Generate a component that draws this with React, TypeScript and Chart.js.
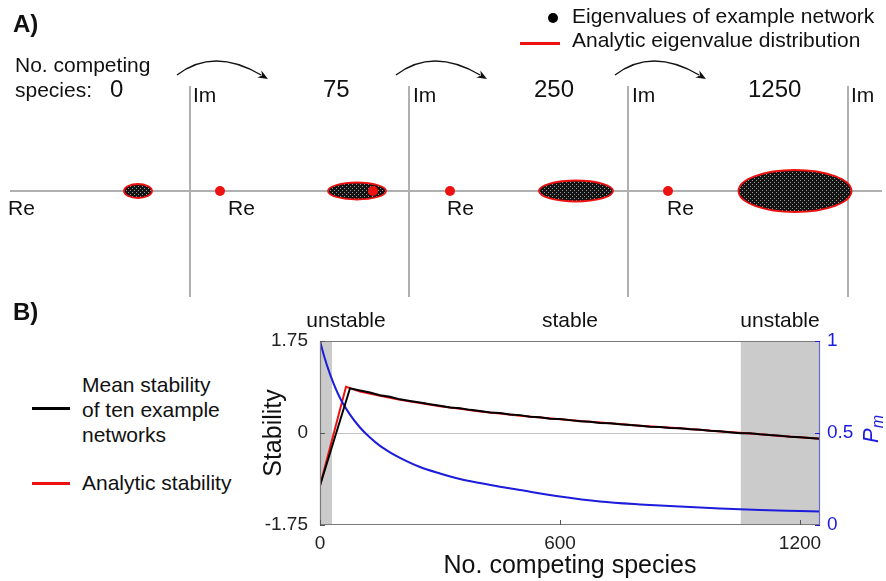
import React, { useEffect, useRef } from 'react';
import { Chart, registerables } from 'chart.js';

Chart.register(...registerables);

const FONT = '"Liberation Sans", Arial, Helvetica, sans-serif';
Chart.defaults.font.family = FONT;

// ---------- Panel A data ----------
const competingCounts = ['0', '75', '250', '1250'];
const panelOrigins = [0, 219, 438, 658]; // Re-position of each Im axis
const ellipseCenters = [-52, -52, -52, -53];
const ellipseHalfWidths = [14, 29, 37, 56.5];
const ellipseHalfHeights = [7, 8.5, 10.5, 21];
const redDotPanels = [0, 1, 1, 2];
const redDotRe = [30, 41, -36, 40];
const reAxisRange = [-180, 692];
const imAxisRange = [-106, 105];
const arrowPanels = [0, 1, 2];
const arrowStart = [-13, 116];
const arrowPeak = [28, 129];
const arrowEnd = [78, 112];

// ---------- Panel B data ----------
const blackN = [0, 75, 100, 125, 150, 175, 200, 225, 250, 275, 300, 325, 350, 375, 400, 425, 450, 475, 500, 525, 550, 575, 600, 625, 650, 675, 700, 725, 750, 775, 800, 825, 850, 875, 900, 925, 950, 975, 1000, 1025, 1050, 1075, 1100, 1125, 1150, 1175, 1200, 1225, 1250];
const blackStability = [-1.0, 0.85, 0.81, 0.77, 0.72, 0.69, 0.64, 0.61, 0.58, 0.545, 0.52, 0.485, 0.47, 0.44, 0.42, 0.39, 0.38, 0.35, 0.34, 0.31, 0.3, 0.27, 0.265, 0.245, 0.225, 0.215, 0.19, 0.185, 0.165, 0.15, 0.14, 0.12, 0.115, 0.095, 0.09, 0.07, 0.06, 0.045, 0.035, 0.015, -0.005, -0.005, -0.025, -0.04, -0.05, -0.07, -0.08, -0.095, -0.11];
const redN = [0, 65, 100, 150, 200, 250, 300, 350, 400, 450, 500, 550, 600, 650, 700, 750, 800, 850, 900, 950, 1000, 1050, 1100, 1150, 1200, 1250];
const redStability = [-1.0, 0.88, 0.79, 0.71, 0.63, 0.57, 0.51, 0.46, 0.41, 0.37, 0.33, 0.295, 0.26, 0.23, 0.2, 0.17, 0.14, 0.115, 0.09, 0.06, 0.03, 0.005, -0.025, -0.055, -0.08, -0.11];
const pmN = [0, 10, 25, 50, 75, 100, 125, 150, 175, 200, 250, 300, 350, 400, 450, 500, 600, 700, 800, 900, 1000, 1100, 1200, 1250];
const pmValues = [1.0, 0.92, 0.82, 0.69, 0.6, 0.53, 0.475, 0.43, 0.395, 0.365, 0.315, 0.28, 0.25, 0.228, 0.208, 0.19, 0.155, 0.128, 0.112, 0.1, 0.09, 0.082, 0.076, 0.073];
const speciesTicks = [0, 600, 1200];
const stabilityTicks = [-1.75, 0, 1.75];
const pmTicks = [0, 0.5, 1];
const unstableRegions = [[0, 30], [1052, 1250]];
const regionLabels = ['unstable', 'stable', 'unstable'];

const BLUE = '#1c1cdc';
const RED = '#ee1111';

function makeSpeckle(ctx: CanvasRenderingContext2D) {
  const c = document.createElement('canvas');
  c.width = 4;
  c.height = 4;
  const p = c.getContext('2d')!;
  p.fillStyle = '#141414';
  p.fillRect(0, 0, 4, 4);
  p.fillStyle = '#9a9a9a';
  p.fillRect(0, 0, 1, 1);
  p.fillRect(2, 2, 1, 1);
  return ctx.createPattern(c, 'repeat');
}

const eigenPlugin = {
  id: 'eigen',
  beforeDatasetsDraw(chart: any) {
    const { ctx, scales } = chart;
    const x = scales.x;
    const y = scales.y;
    ctx.save();
    ctx.strokeStyle = '#b0b0b0';
    ctx.lineWidth = 2;
    ctx.beginPath();
    ctx.moveTo(x.getPixelForValue(reAxisRange[0]), y.getPixelForValue(0));
    ctx.lineTo(x.getPixelForValue(reAxisRange[1]), y.getPixelForValue(0));
    ctx.stroke();
    panelOrigins.forEach((o) => {
      ctx.beginPath();
      ctx.moveTo(x.getPixelForValue(o), y.getPixelForValue(imAxisRange[1]));
      ctx.lineTo(x.getPixelForValue(o), y.getPixelForValue(imAxisRange[0]));
      ctx.stroke();
    });
    const pat = makeSpeckle(ctx);
    panelOrigins.forEach((o, i) => {
      const cx = x.getPixelForValue(o + ellipseCenters[i]);
      const cy = y.getPixelForValue(0);
      const rx = Math.abs(x.getPixelForValue(o + ellipseCenters[i] + ellipseHalfWidths[i]) - cx);
      const ry = Math.abs(y.getPixelForValue(ellipseHalfHeights[i]) - cy);
      ctx.beginPath();
      ctx.ellipse(cx, cy, rx, ry, 0, 0, Math.PI * 2);
      ctx.fillStyle = pat || '#222';
      ctx.fill();
      ctx.strokeStyle = RED;
      ctx.lineWidth = 1.8;
      ctx.stroke();
    });
    // arrows between diagrams
    ctx.strokeStyle = '#111';
    ctx.fillStyle = '#111';
    ctx.lineWidth = 1.3;
    arrowPanels.forEach((pi) => {
      const o = panelOrigins[pi];
      const sx = x.getPixelForValue(o + arrowStart[0]);
      const sy = y.getPixelForValue(arrowStart[1]);
      const px = x.getPixelForValue(o + arrowPeak[0]);
      const py = y.getPixelForValue(arrowPeak[1]);
      const ex = x.getPixelForValue(o + arrowEnd[0]);
      const ey = y.getPixelForValue(arrowEnd[1]);
      const cx = 2 * px - (sx + ex) / 2;
      const cy = 2 * py - (sy + ey) / 2;
      const ang = Math.atan2(ey - cy, ex - cx);
      const hl = 10;
      const bx = ex - hl * Math.cos(ang) * 0.8;
      const by = ey - hl * Math.sin(ang) * 0.8;
      ctx.beginPath();
      ctx.moveTo(sx, sy);
      ctx.quadraticCurveTo(cx, cy, bx, by);
      ctx.stroke();
      ctx.beginPath();
      ctx.moveTo(ex, ey);
      ctx.lineTo(ex - hl * Math.cos(ang) + 4 * Math.sin(ang), ey - hl * Math.sin(ang) - 4 * Math.cos(ang));
      ctx.lineTo(ex - hl * Math.cos(ang) * 0.7, ey - hl * Math.sin(ang) * 0.7);
      ctx.lineTo(ex - hl * Math.cos(ang) - 4 * Math.sin(ang), ey - hl * Math.sin(ang) + 4 * Math.cos(ang));
      ctx.closePath();
      ctx.fill();
    });
    ctx.restore();
  },
};

const boxPlugin = {
  id: 'box',
  beforeDatasetsDraw(chart: any) {
    const { ctx, chartArea, scales } = chart;
    const { top, bottom, left, right } = chartArea;
    const x = scales.x;
    const y = scales.y;
    ctx.save();
    ctx.fillStyle = '#cbcbcb';
    unstableRegions.forEach(([a, b]) => {
      const xa = x.getPixelForValue(a);
      const xb = x.getPixelForValue(b);
      ctx.fillRect(xa, top, xb - xa, bottom - top);
    });
    ctx.strokeStyle = '#c4c4c4';
    ctx.lineWidth = 1;
    const y0 = Math.round(y.getPixelForValue(0)) + 0.5;
    ctx.beginPath();
    ctx.moveTo(left, y0);
    ctx.lineTo(right, y0);
    ctx.stroke();
    ctx.restore();
  },
  afterDatasetsDraw(chart: any) {
    const { ctx, chartArea, scales } = chart;
    const { top, bottom, left, right } = chartArea;
    ctx.save();
    ctx.lineWidth = 1.2;
    ctx.strokeStyle = '#7a7a7a';
    ctx.beginPath();
    ctx.moveTo(right, top + 0.5);
    ctx.lineTo(left + 0.5, top + 0.5);
    ctx.lineTo(left + 0.5, bottom - 0.5);
    ctx.lineTo(right, bottom - 0.5);
    ctx.stroke();
    ctx.strokeStyle = '#6a6ac8';
    ctx.beginPath();
    ctx.moveTo(right - 0.5, top);
    ctx.lineTo(right - 0.5, bottom);
    ctx.stroke();
    // inward tick marks
    ctx.strokeStyle = '#555';
    ctx.lineWidth = 1;
    speciesTicks.forEach((v) => {
      const px = Math.round(scales.x.getPixelForValue(v)) + 0.5;
      ctx.beginPath();
      ctx.moveTo(px, bottom);
      ctx.lineTo(px, bottom - 5);
      ctx.stroke();
    });
    stabilityTicks.forEach((v) => {
      const py = Math.round(scales.y.getPixelForValue(v)) + 0.5;
      ctx.beginPath();
      ctx.moveTo(left, py);
      ctx.lineTo(left + 5, py);
      ctx.stroke();
    });
    ctx.strokeStyle = BLUE;
    pmTicks.forEach((v) => {
      const py = Math.round(scales.y1.getPixelForValue(v)) + 0.5;
      ctx.beginPath();
      ctx.moveTo(right, py);
      ctx.lineTo(right - 5, py);
      ctx.stroke();
    });
    ctx.restore();
  },
};

function PanelA() {
  const ref = useRef<HTMLCanvasElement>(null);
  useEffect(() => {
    const chart = new Chart(ref.current!, {
      type: 'scatter',
      data: {
        datasets: [
          {
            data: redDotRe.map((r, i) => ({ x: panelOrigins[redDotPanels[i]] + r, y: 0 })),
            pointRadius: 5,
            pointBackgroundColor: RED,
            pointBorderWidth: 0,
            pointBorderColor: RED,
          },
        ],
      },
      options: {
        animation: false,
        responsive: false,
        events: [],
        layout: { padding: 0, autoPadding: false },
        plugins: { legend: { display: false }, tooltip: { enabled: false } },
        scales: {
          x: { type: 'linear', min: -190, max: 696, display: false },
          y: { type: 'linear', min: -109, max: 191, display: false },
        },
      },
      plugins: [eigenPlugin],
    } as any);
    return () => chart.destroy();
  }, []);
  return <canvas ref={ref} width={886} height={300} style={{ position: 'absolute', left: 0, top: 0 }} />;
}

function PanelB() {
  const ref = useRef<HTMLCanvasElement>(null);
  useEffect(() => {
    const tickFont = { size: 19, family: FONT };
    const chart = new Chart(ref.current!, {
      type: 'line',
      data: {
        datasets: [
          {
            label: 'Mean stability of ten example networks',
            data: blackN.map((n, i) => ({ x: n, y: blackStability[i] })),
            borderColor: '#000',
            borderWidth: 2,
            pointRadius: 0,
            yAxisID: 'y',
          },
          {
            label: 'Pm',
            data: pmN.map((n, i) => ({ x: n, y: pmValues[i] })),
            borderColor: BLUE,
            borderWidth: 2,
            pointRadius: 0,
            cubicInterpolationMode: 'monotone',
            yAxisID: 'y1',
          },
          {
            label: 'Analytic stability',
            data: redN.map((n, i) => ({ x: n, y: redStability[i] })),
            borderColor: RED,
            borderWidth: 2,
            pointRadius: 0,
            yAxisID: 'y',
          },
        ],
      },
      options: {
        animation: false,
        responsive: false,
        events: [],
        layout: { padding: { top: 11, left: 0, right: 0, bottom: 0 }, autoPadding: false },
        plugins: { legend: { display: false }, tooltip: { enabled: false } },
        scales: {
          x: {
            type: 'linear',
            min: 0,
            max: 1250,
            afterBuildTicks: (s: any) => {
              s.ticks = speciesTicks.map((v) => ({ value: v }));
            },
            afterFit: (s: any) => {
              s.height = 56;
              s.paddingLeft = 0;
              s.paddingRight = 0;
            },
            grid: { display: false, drawTicks: false },
            border: { display: false },
            ticks: { font: tickFont, color: '#222', padding: 7, maxRotation: 0, autoSkip: false, callback: (v: any) => String(v) },
            title: { display: true, text: 'No. competing species', font: { size: 25, family: FONT }, color: '#111', padding: 0 },
          },
          y: {
            type: 'linear',
            position: 'left',
            min: -1.75,
            max: 1.75,
            afterBuildTicks: (s: any) => {
              s.ticks = stabilityTicks.map((v) => ({ value: v }));
            },
            afterFit: (s: any) => {
              s.width = 70;
              s.paddingTop = 0;
              s.paddingBottom = 0;
            },
            grid: { display: false, drawTicks: false },
            border: { display: false },
            ticks: { font: tickFont, color: '#222', padding: 12, callback: (v: any) => String(v) },
            title: { display: true, text: 'Stability', font: { size: 25, family: FONT }, color: '#111', padding: { top: 9, bottom: 0 } },
          },
          y1: {
            type: 'linear',
            position: 'right',
            min: 0,
            max: 1,
            afterBuildTicks: (s: any) => {
              s.ticks = pmTicks.map((v) => ({ value: v }));
            },
            afterFit: (s: any) => {
              s.width = 66;
              s.paddingTop = 0;
              s.paddingBottom = 0;
            },
            grid: { display: false, drawTicks: false },
            border: { display: false },
            ticks: { font: tickFont, color: BLUE, padding: 7, callback: (v: any) => String(v) },
          },
        },
      },
      plugins: [boxPlugin],
    } as any);
    return () => chart.destroy();
  }, []);
  return <canvas ref={ref} width={636} height={251} style={{ position: 'absolute', left: 250, top: 330 }} />;
}

function T(props: { x: number; y: number; size: number; bold?: boolean; color?: string; center?: boolean; children: React.ReactNode }) {
  const { x, y, size, bold, color, center, children } = props;
  return (
    <div
      style={{
        position: 'absolute',
        left: x,
        top: y - 0.8465 * size,
        fontSize: size,
        lineHeight: 1,
        fontWeight: bold ? 'bold' : 'normal',
        color: color || '#111',
        whiteSpace: 'nowrap',
        transform: center ? 'translateX(-50%)' : undefined,
      }}
    >
      {children}
    </div>
  );
}

export default function App() {
  const countX = [110, 323, 534, 748];
  const imX = [193, 413, 632, 851];
  const reX = [8, 228, 447, 667];
  const regionX = [346, 570, 780];
  return (
    <div
      style={{
        position: 'fixed',
        left: 0,
        top: 0,
        width: 886,
        height: 581,
        background: '#fff',
        fontFamily: FONT,
        overflow: 'hidden',
      }}
    >
      <PanelA />
      <PanelB />
      <T x={13} y={32} size={24} bold>A)</T>
      <T x={15} y={72} size={21}>No. competing</T>
      <T x={15} y={97} size={21}>species:</T>
      {competingCounts.map((c, i) => (
        <T key={'c' + i} x={countX[i]} y={97} size={24}>{c}</T>
      ))}
      {imX.map((x, i) => (
        <T key={'im' + i} x={x} y={102} size={21}>Im</T>
      ))}
      {reX.map((x, i) => (
        <T key={'re' + i} x={x} y={215} size={21}>Re</T>
      ))}
      <div style={{ position: 'absolute', left: 548, top: 13, width: 10, height: 10, borderRadius: 5, background: '#000' }} />
      <T x={572} y={23} size={21}>Eigenvalues of example network</T>
      <div style={{ position: 'absolute', left: 520, top: 41.5, width: 40, height: 3, background: RED }} />
      <T x={572} y={47} size={21}>Analytic eigenvalue distribution</T>

      <T x={13} y={320} size={24} bold>B)</T>
      <div style={{ position: 'absolute', left: 32, top: 406.5, width: 38, height: 3, background: '#000' }} />
      <T x={82} y={392} size={21}>Mean stability</T>
      <T x={82} y={417} size={21}>of ten example</T>
      <T x={82} y={442} size={21}>networks</T>
      <div style={{ position: 'absolute', left: 32, top: 481.5, width: 38, height: 3, background: RED }} />
      <T x={82} y={490} size={21}>Analytic stability</T>
      {regionLabels.map((l, i) => (
        <T key={'r' + i} x={regionX[i]} y={327} size={21} center>{l}</T>
      ))}
      <div
        style={{
          position: 'absolute',
          left: 871,
          top: 429,
          transform: 'translate(-50%, -50%) rotate(-90deg)',
          color: BLUE,
          fontSize: 22,
          lineHeight: 1,
          fontStyle: 'italic',
          whiteSpace: 'nowrap',
        }}
      >
        P<sub style={{ fontSize: 16, verticalAlign: 'sub', lineHeight: 0 }}>m</sub>
      </div>
    </div>
  );
}
